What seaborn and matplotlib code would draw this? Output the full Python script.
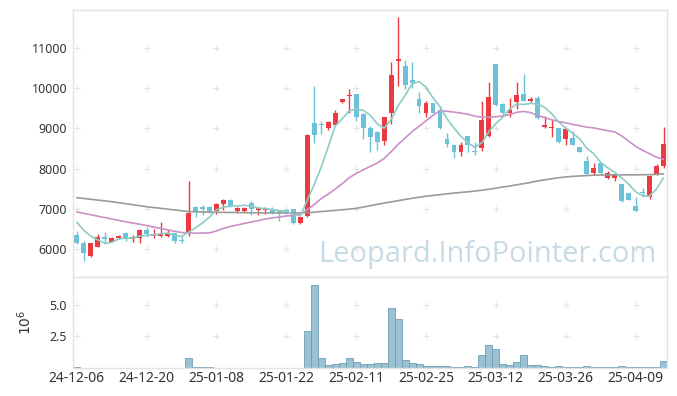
# coding: utf-8

import matplotlib.pyplot as plt
import numpy as np
import pandas as pd
import seaborn as sns

# x axis is one slot per trading session, a date label every 10 sessions
tick_labels = ['24-12-06', '24-12-20', '25-01-08', '25-01-22', '25-02-11',
               '25-02-25', '25-03-12', '25-03-26', '25-04-09']
tick_every = 10

open_ = [
    6350, 6160, 5830, 6060, 6300, 6185, 6270, 6390, 6240, 6270,
    6470, 6325, 6330, 6330, 6390, 6225, 6400, 7040, 7035, 7040,
    6950, 7110, 7220, 6945, 6940, 7135, 6970, 6980, 6990, 6960,
    6960, 6990, 6640, 6820, 9127, 9110, 9000, 9085, 9665, 9805,
    9855, 9360, 9000, 8910, 8695, 9390, 10680, 10550, 10205, 9730,
    9390, 9625, 9460, 8730, 8590, 8400, 8810, 8445, 8505, 8810,
    10600, 9605, 9390, 9665, 9855, 9690, 9750, 9020, 8995, 9000,
    8730, 8755, 8530, 8190, 7885, 8130, 7760, 7760, 7615, 7385,
    7070, 7425, 7286, 7865, 8050]
high = [
    6450, 6200, 6150, 6370, 6430, 6290, 6350, 6410, 6340, 6490,
    6540, 6500, 6680, 6470, 6400, 6320, 7700, 7070, 7100, 7060,
    7150, 7240, 7230, 7050, 7040, 7180, 7050, 7050, 7040, 6980,
    7000, 7000, 6800, 8850, 10040, 9190, 9170, 9460, 9740, 9975,
    9860, 9380, 9060, 8920, 9280, 10640, 11760, 10690, 10635, 9890,
    9690, 9630, 9560, 8890, 8600, 8670, 8820, 8670, 9690, 10140,
    10610, 9620, 9750, 10140, 10350, 9770, 9810, 9310, 9210, 9010,
    8990, 8920, 8540, 8310, 8130, 8170, 7940, 7880, 7620, 7390,
    7290, 7510, 7830, 8100, 9030]
low = [
    6120, 5690, 5800, 6050, 6125, 6170, 6240, 6200, 6180, 6160,
    6290, 6280, 6300, 6300, 6150, 6140, 6320, 6800, 6850, 6900,
    6860, 6960, 7050, 6900, 6920, 6850, 6850, 6880, 6860, 6700,
    6870, 6630, 6630, 6800, 8640, 8860, 8960, 9080, 9640, 9380,
    9190, 8730, 8400, 8460, 8590, 9110, 10060, 9970, 10000, 9380,
    9290, 9380, 8990, 8545, 8256, 8310, 8420, 8340, 8445, 8780,
    9560, 9330, 9290, 9475, 9680, 9660, 9240, 9000, 8780, 8640,
    8590, 8580, 8410, 7860, 7840, 7860, 7740, 7700, 7170, 7210,
    6950, 7300, 7236, 7840, 8020]
close = [
    6160, 5890, 6140, 6290, 6240, 6265, 6320, 6240, 6300, 6470,
    6370, 6370, 6380, 6380, 6210, 6210, 6900, 6930, 6990, 6930,
    7120, 7220, 7070, 7010, 7010, 6990, 7010, 6995, 6890, 6890,
    6900, 6640, 6790, 8840, 8836, 9070, 9160, 9380, 9730, 9830,
    9290, 9000, 8780, 8670, 9275, 10330, 10720, 10080, 10120, 9560,
    9625, 9390, 9000, 8610, 8400, 8590, 8590, 8420, 9210, 9775,
    9580, 9390, 9460, 9830, 9690, 9740, 9250, 9085, 9040, 8670,
    8975, 8590, 8420, 7865, 8005, 7900, 7900, 7865, 7180, 7220,
    6955, 7400, 7816, 8065, 8605]
# traded volume, millions of shares
volume = [
    0.06, 0.03, 0.02, 0.03, 0.02, 0.02, 0.02, 0.03, 0.02, 0.03,
    0.03, 0.02, 0.03, 0.02, 0.02, 0.03, 0.81, 0.08, 0.08, 0.08,
    0.03, 0.03, 0.02, 0.02, 0.02, 0.02, 0.02, 0.02, 0.02, 0.02,
    0.02, 0.03, 0.03, 2.90, 6.56, 0.81, 0.24, 0.32, 0.43, 0.81,
    0.51, 0.35, 0.35, 0.43, 0.43, 4.76, 3.87, 0.65, 0.40, 0.32,
    0.16, 0.16, 0.16, 0.16, 0.05, 0.05, 0.19, 0.05, 1.05, 1.85,
    1.53, 0.32, 0.24, 0.51, 1.05, 0.24, 0.24, 0.16, 0.08, 0.16,
    0.08, 0.08, 0.08, 0.16, 0.08, 0.08, 0.08, 0.08, 0.16, 0.08,
    0.08, 0.08, 0.08, 0.08, 0.56]

# closes of the 4 sessions before the window (for the 5-day average)
prior_close = [6900, 6850, 6760, 6650]
# 20-day average for the first 19 sessions
ma20_head = [6920, 6885, 6850, 6815, 6780, 6745, 6710, 6675, 6645, 6615,
             6580, 6545, 6510, 6475, 6440, 6410, 6395, 6392, 6395]
# long average (grey line)
ma120 = [
    7275, 7255, 7235, 7215, 7195, 7175, 7150, 7125, 7100, 7075,
    7050, 7030, 7010, 6990, 6970, 6950, 6930, 6925, 6920, 6915,
    6912, 6910, 6908, 6905, 6903, 6900, 6898, 6896, 6895, 6894,
    6893, 6895, 6898, 6905, 6915, 6930, 6945, 6960, 6975, 6990,
    7010, 7040, 7075, 7110, 7140, 7170, 7200, 7230, 7260, 7285,
    7310, 7330, 7350, 7370, 7390, 7405, 7420, 7440, 7460, 7485,
    7510, 7540, 7565, 7595, 7625, 7655, 7690, 7720, 7745, 7770,
    7790, 7805, 7815, 7825, 7832, 7838, 7840, 7842, 7842, 7842,
    7843, 7845, 7848, 7852, 7866]

price_ticks = [6000, 7000, 8000, 9000, 10000, 11000]
volume_ticks = [2.5, 5.0]
watermark = 'Leopard.InfoPointer.com'

UP = '#ec3a40'
DOWN = '#6cc3d9'
MA_COLORS = {'ma5': '#8dccc4', 'ma20': '#cc8fc8', 'ma120': '#9a9a9a'}
VOL_FILL = '#9bc2d3'
VOL_EDGE = '#6f9fb4'
FRAME = '#e3e3e3'
MARK = '#e4e4e4'
TEXT = '#333333'


def build_frame():
    df = pd.DataFrame({'open': open_, 'high': high, 'low': low,
                       'close': close, 'volume': volume, 'ma120': ma120})
    df['ma5'] = pd.Series(prior_close + close).rolling(5).mean().iloc[len(prior_close):].values
    ma20 = pd.Series(close).rolling(20).mean()
    ma20.iloc[:len(ma20_head)] = ma20_head
    df['ma20'] = ma20.values
    return df


def draw_candles(ax, df):
    up = df['close'] >= df['open']
    colors = np.where(up, UP, DOWN)
    ax.vlines(df.index, df['low'], df['high'], colors=colors, linewidth=1, zorder=2)
    body = (df['close'] - df['open']).abs().clip(lower=25)
    bottom = df[['open', 'close']].min(axis=1)
    ax.bar(df.index, body, bottom=bottom, width=0.7, color=colors, linewidth=0, zorder=2)


def grid_marks(ax, xs, ys):
    gx, gy = np.meshgrid(xs, ys)
    ax.scatter(gx.ravel(), gy.ravel(), marker='+', s=20, color=MARK,
               linewidth=0.8, zorder=0)


def style_frame(ax):
    for sp in ax.spines.values():
        sp.set_color(FRAME)
        sp.set_linewidth(1)


def make_plot(df):
    sns.set_theme(style='white')
    plt.rcParams['font.family'] = ['Noto Sans', 'DejaVu Sans']

    fig = plt.figure(figsize=(6.77, 3.96), dpi=100)
    W, H = 677.0, 396.0
    left, right = 73.3, 667.0
    ax1 = fig.add_axes([left / W, 1 - 277 / H, (right - left) / W, 267 / H])
    ax2 = fig.add_axes([left / W, 1 - 368 / H, (right - left) / W, 91 / H])

    xticks = list(range(0, tick_every * len(tick_labels), tick_every))
    xlim = (-0.5, len(df) - 0.5)

    # price panel
    grid_marks(ax1, xticks, price_ticks)
    draw_candles(ax1, df)
    for col in ['ma120', 'ma20', 'ma5']:
        sns.lineplot(x=df.index, y=df[col], ax=ax1, color=MA_COLORS[col],
                     linewidth=1.2, zorder=3)
    ax1.set_xlim(*xlim)
    ax1.set_ylim(5303, 11940)
    ax1.set_yticks(price_ticks)
    ax1.set_yticklabels([str(t) for t in price_ticks])
    ax1.set_xticks(xticks)
    ax1.set_xticklabels([])
    ax1.set_xlabel('')
    ax1.set_ylabel('')
    ax1.tick_params(axis='y', length=0, pad=4.5, labelsize=9, labelcolor=TEXT)
    ax1.tick_params(axis='x', direction='in', length=3, color=MARK)
    style_frame(ax1)

    wm = ax1.text(0.4127, 0.0573, watermark, transform=ax1.transAxes,
                  ha='left', va='baseline', fontsize=22, color='#c6dbe6',
                  family=['Open Sans', 'DejaVu Sans'], zorder=1)
    fig.canvas.draw()
    wm.set_fontsize(22 * 338.0 / wm.get_window_extent().width)

    # volume panel
    grid_marks(ax2, xticks, volume_ticks)
    sns.barplot(x=df.index, y=df['volume'], ax=ax2, native_scale=True,
                color=VOL_FILL, saturation=1, edgecolor=VOL_EDGE,
                linewidth=0.6, width=1.0, zorder=2)
    ax2.set_xlim(*xlim)
    ax2.set_ylim(0, 7.18)
    ax2.set_yticks(volume_ticks)
    ax2.set_yticklabels(['2.5', '5.0'])
    ax2.set_xticks(xticks)
    ax2.set_xticklabels(tick_labels)
    ax2.set_xlabel('')
    ax2.set_ylabel(r'$10^6$', fontsize=10, color=TEXT)
    ax2.yaxis.set_label_coords(-0.065, 0.5)
    ax2.tick_params(axis='y', length=0, pad=4.5, labelsize=9, labelcolor=TEXT)
    ax2.tick_params(axis='x', length=0, pad=2.5, labelsize=10, labelcolor=TEXT)
    style_frame(ax2)

    return fig


if __name__ == "__main__":
    data = build_frame()
    fig = make_plot(data)
    fig.savefig('out.png', dpi=100)
